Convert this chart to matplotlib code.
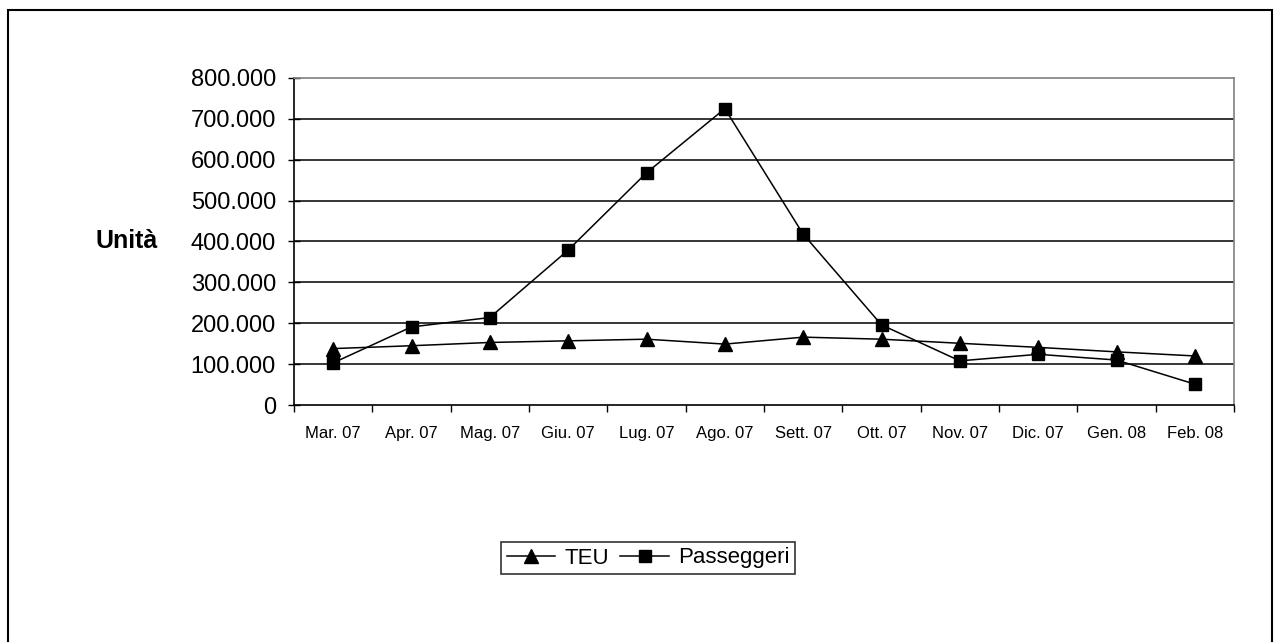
import numpy as np
import matplotlib.pyplot as plt
from matplotlib.ticker import FuncFormatter, FixedLocator
from matplotlib.patches import Rectangle

mesi = ["Mar. 07", "Apr. 07", "Mag. 07", "Giu. 07", "Lug. 07", "Ago. 07",
        "Sett. 07", "Ott. 07", "Nov. 07", "Dic. 07", "Gen. 08", "Feb. 08"]
teu = [138000, 145000, 153000, 157000, 161000, 149000,
       166000, 161000, 151000, 141000, 130000, 120000]
passeggeri = [103000, 191000, 214000, 379000, 568000, 725000,
              418000, 196000, 108000, 124000, 110000, 51000]

plt.rcParams['font.family'] = ['Liberation Sans', 'DejaVu Sans']

fig = plt.figure(figsize=(12.74, 6.42), dpi=100)
ax = fig.add_axes([294 / 1274, 1 - 405 / 642, 940 / 1274, 327 / 642])

x = np.arange(len(mesi)) + 0.5
ax.plot(x, teu, color='black', lw=1.1, marker='^', ms=10, label='TEU')
ax.plot(x, passeggeri, color='black', lw=1.1, marker='s', ms=9, label='Passeggeri')

ax.set_xlim(0, 12)
ax.set_ylim(0, 800000)

# category ticks sit between the months, labels centred on the months
ax.xaxis.set_major_locator(FixedLocator(np.arange(0, 13)))
ax.xaxis.set_minor_locator(FixedLocator(x))
ax.set_xticklabels([])
ax.set_xticklabels(mesi, minor=True, fontsize=12)
ax.tick_params(axis='x', which='major', direction='out', length=5, width=1)
ax.tick_params(axis='x', which='minor', length=0, pad=15)

ax.set_yticks(np.arange(0, 800001, 100000))
ax.yaxis.set_major_formatter(FuncFormatter(lambda v, p: f"{int(v):,}".replace(",", ".")))
ax.tick_params(axis='y', direction='inout', length=8, width=1, labelsize=17, pad=9)

for v in range(100000, 800000, 100000):
    ax.axhline(v, color='black', lw=1.1, zorder=0)

ax.spines['left'].set_color('black')
ax.spines['bottom'].set_color('black')
ax.spines['top'].set_color('#808080')
ax.spines['right'].set_color('#808080')
for s in ax.spines.values():
    s.set_linewidth(1.2)

fig.text(127 / 1274, 1 - 241 / 642, "Unità", fontsize=18, fontweight='bold',
         ha='center', va='center')

leg = fig.legend(loc='center', bbox_to_anchor=(648 / 1274, 1 - 558 / 642), ncol=2,
                 fontsize=16, frameon=True, fancybox=False, edgecolor='black',
                 handlelength=2.2, handletextpad=0.4, columnspacing=0.5,
                 borderpad=0.25, borderaxespad=0)
leg.get_frame().set_linewidth(1.2)

# outer chart frame
fig.patches.append(Rectangle((8 / 1274, -0.05), 1264 / 1274, 1 - 10 / 642 + 0.05,
                             transform=fig.transFigure, fill=False,
                             edgecolor='black', lw=1.5))

fig.savefig("out.png", dpi=100)
